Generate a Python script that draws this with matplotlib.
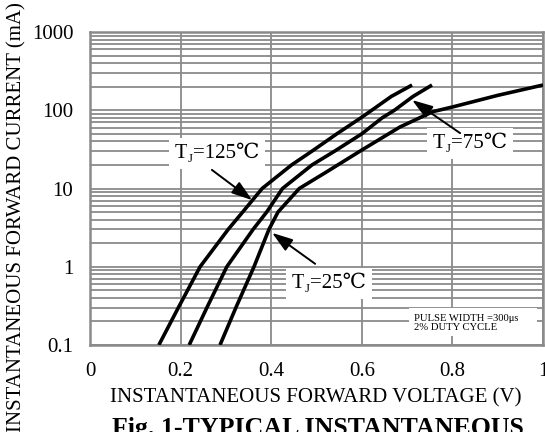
import numpy as np
import matplotlib
matplotlib.use('Agg')
import matplotlib.pyplot as plt
from matplotlib.ticker import LogLocator, NullFormatter
from matplotlib.patches import Rectangle

plt.rcParams['font.family'] = ['Liberation Serif', 'DejaVu Serif']

# ---- data ----
v_125 = [0.152, 0.195, 0.243, 0.305, 0.337, 0.38, 0.445, 0.49, 0.545, 0.598, 0.622, 0.665, 0.711]
i_125 = [0.1, 0.3, 1, 3, 5, 10, 20, 30, 50, 80, 100, 150, 210]
v_75 = [0.219, 0.258, 0.302, 0.36, 0.39, 0.425, 0.49, 0.54, 0.6, 0.645, 0.672, 0.713, 0.755]
i_75 = [0.1, 0.3, 1, 3, 5, 10, 20, 30, 50, 80, 100, 150, 210]
v_25 = [0.287, 0.322, 0.362, 0.395, 0.415, 0.462, 0.52, 0.6, 0.684, 0.757, 0.8, 0.9, 1.0]
i_25 = [0.1, 0.3, 1, 3, 5, 10, 16, 31, 61, 96, 110, 155, 210]

x_ticks = [0, 0.2, 0.4, 0.6, 0.8, 1.0]
x_tick_labels = ['0', '0.2', '0.4', '0.6', '0.8', '1']
y_ticks = [0.1, 1, 10, 100, 1000]
y_tick_labels = ['0.1', '1', '10', '100', '1000']

temps = ['125', '75', '25']
pulse_text = 'PULSE WIDTH =300μs\n2% DUTY CYCLE'
x_label = 'INSTANTANEOUS FORWARD VOLTAGE (V)'
y_label = 'INSTANTANEOUS FORWARD CURRENT (mA)'
title = 'Fig. 1-TYPICAL INSTANTANEOUS'

# ---- figure ----
W, H = 545, 432
fig = plt.figure(figsize=(W / 100, H / 100), dpi=100)
ax = fig.add_axes([90 / W, 87 / H, 453 / W, 313 / H])
ax.set_yscale('log')
ax.set_xlim(0, 1)
ax.set_ylim(0.1, 1000)

grid_color = '#8a8a8a'
FS = 15
ax.set_xticks(x_ticks)
ax.set_xticklabels(x_tick_labels)
ax.set_yticks(y_ticks)
ax.set_yticklabels(y_tick_labels)
ax.yaxis.set_minor_locator(LogLocator(base=10, subs=np.arange(2, 10)))
ax.yaxis.set_minor_formatter(NullFormatter())
ax.tick_params(which='both', length=0, labelsize=FS)
ax.tick_params(axis='x', pad=12)
ax.tick_params(axis='y', pad=12)
ax.grid(True, which='major', axis='both', color=grid_color, lw=1.3)
ax.grid(True, which='minor', axis='y', color=grid_color, lw=1.3)
ax.set_axisbelow(True)
for s in ax.spines.values():
    s.set_color(grid_color)
    s.set_linewidth(1.8)

for v, i in ((v_125, i_125), (v_75, i_75), (v_25, i_25)):
    ax.plot(v, i, color='black', lw=2.6, solid_capstyle='butt', zorder=3)

box = dict(boxstyle='square,pad=0.3', fc='white', ec='none')
arrow = dict(arrowstyle='-|>,head_length=0.9,head_width=0.3', color='black',
             lw=1.4, mutation_scale=14, shrinkA=0, shrinkB=0)


def tj_label(px_left, px_base, temp):
    """T with subscript J followed by '=xx℃', left/baseline given in figure pixels."""
    x = px_left / W
    y = 1 - px_base / H
    t1 = ax.text(x, y, 'T', transform=fig.transFigure, fontsize=FS, ha='left',
                 va='baseline', bbox=box, zorder=5, clip_on=False)
    t2 = ax.annotate('J', xy=(1, 0), xycoords=t1, xytext=(0, 1), textcoords='offset points',
                     fontsize=FS * 0.62, ha='left', va='baseline', zorder=5.2,
                     annotation_clip=False)
    t3 = ax.annotate('=' + temp + '℃', xy=(1, 0), xycoords=(t2, t1), ha='left', va='bottom',
                     fontsize=FS, bbox=box, zorder=5.1, annotation_clip=False)
    return t1, t2, t3


tj_label(175, 158, temps[0])
ax.annotate('', xy=(0.358, 7.1), xytext=(0.269, 17.3), arrowprops=arrow, zorder=6)

tj_label(433, 148, temps[1])
ax.annotate('', xy=(0.711, 135), xytext=(0.817, 51), arrowprops=arrow, zorder=6)

tj_label(292, 288, temps[2])
ax.annotate('', xy=(0.402, 2.71), xytext=(0.497, 1.09), arrowprops=arrow, zorder=6)

ax.add_patch(Rectangle((0.704, 0.029), 0.283, 0.089, transform=ax.transAxes,
                       fc='white', ec='none', zorder=4))
ax.text(0.715, 0.07, pulse_text, transform=ax.transAxes, fontsize=7.7,
        ha='left', va='center', linespacing=1.05, zorder=5)

fig.text(17 / W, 1 - 217 / H, y_label, rotation=90, ha='center', va='center', fontsize=FS)
fig.text(315.5 / W, 1 - 398 / H, x_label, ha='center', va='center', fontsize=FS)
fig.text(318 / W, -3 / H, title, ha='center', va='baseline', fontsize=18.6, fontweight='bold')

fig.savefig('out.png', dpi=100)
